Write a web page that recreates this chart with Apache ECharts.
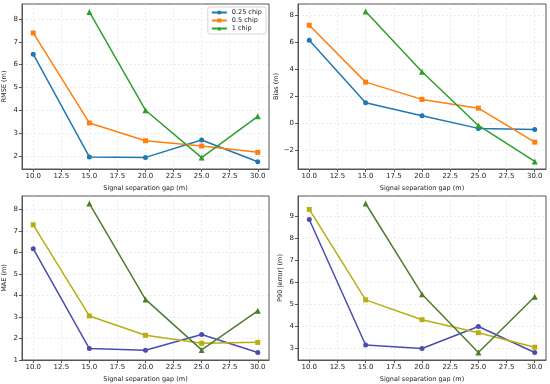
<!DOCTYPE html>
<html><head><meta charset="utf-8">
<script src="https://cdn.jsdelivr.net/npm/echarts@6/dist/echarts.min.js"></script>
<style>html,body{margin:0;padding:0;background:#fff}#c{width:550px;height:384px}</style>
</head><body><div id="c"></div>
<script>
const gaps = [10, 15, 20, 25, 30];
const seriesNames = ['0.25 chip', '0.5 chip', '1 chip'];
const xTicks = [10, 12.5, 15, 17.5, 20, 22.5, 25, 27.5, 30];

const rmse025 = [6.46, 1.95, 1.93, 2.69, 1.74];
const rmse05  = [7.39, 3.44, 2.66, 2.43, 2.15];
const rmse1   = [null, 8.31, 4.00, 1.92, 3.73];

const bias025 = [6.15, 1.51, 0.55, -0.39, -0.47];
const bias05  = [7.26, 3.04, 1.76, 1.11, -1.41];
const bias1   = [null, 8.27, 3.81, -0.17, -2.84];

const mae025 = [6.18, 1.53, 1.45, 2.19, 1.35];
const mae05  = [7.29, 3.05, 2.15, 1.78, 1.82];
const mae1   = [null, 8.28, 3.82, 1.47, 3.29];

const p90025 = [8.86, 3.16, 3.00, 4.00, 2.82];
const p9005  = [9.32, 5.21, 4.31, 3.72, 3.06];
const p901   = [null, 9.59, 5.47, 2.82, 5.35];

const rmseTicks = [2, 3, 4, 5, 6, 7, 8];
const biasTicks = [-2, 0, 2, 4, 6, 8];
const maeTicks  = [1, 2, 3, 4, 5, 6, 7, 8];
const p90Ticks  = [3, 4, 5, 6, 7, 8, 9];

const panels = [
  {name: 'RMSE (m)', data: [rmse025, rmse05, rmse1], ticks: rmseTicks, min: 1.42, max: 8.66,
   colors: ['#1f77b4', '#ff7f0e', '#2ca02c'], grid: {left: 20, top: 4, width: 249, height: 165}},
  {name: 'Bias (m)', data: [bias025, bias05, bias1], ticks: biasTicks, min: -3.40, max: 8.83,
   colors: ['#1f77b4', '#ff7f0e', '#2ca02c'], grid: {left: 298, top: 4, width: 248, height: 165}},
  {name: 'MAE (m)', data: [mae025, mae05, mae1], ticks: maeTicks, min: 1.0, max: 8.63,
   colors: ['#4a4db0', '#b8ae12', '#4f7d2c'], grid: {left: 20, top: 196, width: 249, height: 165}},
  {name: 'P90 |error| (m)', data: [p90025, p9005, p901], ticks: p90Ticks, min: 2.48, max: 9.93,
   colors: ['#4a4db0', '#b8ae12', '#4f7d2c'], grid: {left: 298, top: 196, width: 248, height: 165}}
];
const symbols = ['circle', 'rect', 'triangle'];
const font = 'DejaVu Sans';

const grids = [], xAxes = [], yAxes = [], series = [];
panels.forEach((p, i) => {
  grids.push(p.grid);
  xAxes.push({
    type: 'value', gridIndex: i, min: 9, max: 31,
    name: 'Signal separation gap (m)', nameLocation: 'middle', nameGap: 16,
    nameTextStyle: {fontFamily: font, fontSize: 6.5, color: '#222'},
    axisLine: {show: true, onZero: false, lineStyle: {color: '#555', width: 1}},
    axisTick: {show: true, length: 3, customValues: xTicks, lineStyle: {color: '#555'}},
    axisLabel: {customValues: xTicks, fontFamily: font, fontSize: 7, color: '#222', margin: 4,
      formatter: v => v.toFixed(1)},
    splitLine: {show: true, lineStyle: {color: '#e8e8e8', type: [2, 2], width: 0.8}}
  });
  yAxes.push({
    type: 'value', gridIndex: i, min: p.min, max: p.max,
    name: p.name, nameLocation: 'middle', nameGap: 14, nameRotate: 90,
    nameTextStyle: {fontFamily: font, fontSize: 6.5, color: '#222'},
    axisLine: {show: true, onZero: false, lineStyle: {color: '#555', width: 1}},
    axisTick: {show: true, length: 3, customValues: p.ticks, lineStyle: {color: '#555'}},
    axisLabel: {customValues: p.ticks, fontFamily: font, fontSize: 7, color: '#222', margin: 4,
      formatter: v => (v < 0 ? '\u2212' + Math.abs(v) : String(v))},
    splitLine: {show: true, lineStyle: {color: '#e8e8e8', type: [2, 2], width: 0.8}}
  });
  p.data.forEach((vals, k) => {
    series.push({
      type: 'line', name: seriesNames[k], xAxisIndex: i, yAxisIndex: i,
      data: gaps.map((g, j) => [g, vals[j]]),
      symbol: symbols[k], symbolSize: k === 2 ? 6 : 5,
      showSymbol: true, connectNulls: false,
      lineStyle: {color: p.colors[k], width: 1.5},
      itemStyle: {color: p.colors[k]},
      z: 2 + k, animation: false
    });
  });
});

const option = {
  backgroundColor: '#fff',
  animation: false,
  grid: grids.map(g => Object.assign({show: true, borderColor: '#555', borderWidth: 1, backgroundColor: 'transparent'}, g)),
  xAxis: xAxes,
  yAxis: yAxes,
  legend: {
    data: seriesNames, right: 284, top: 7, orient: 'vertical',
    itemWidth: 15, itemHeight: 5, itemGap: 1,
    textStyle: {fontFamily: font, fontSize: 6.5, color: '#222'},
    backgroundColor: '#fff', borderColor: '#ccc', borderWidth: 0.8, borderRadius: 2, padding: [2, 4, 2, 3]
  },
  series: series
};
const chart = echarts.init(document.getElementById('c'), null, {renderer: 'canvas'});
chart.setOption(option);
</script></body></html>
